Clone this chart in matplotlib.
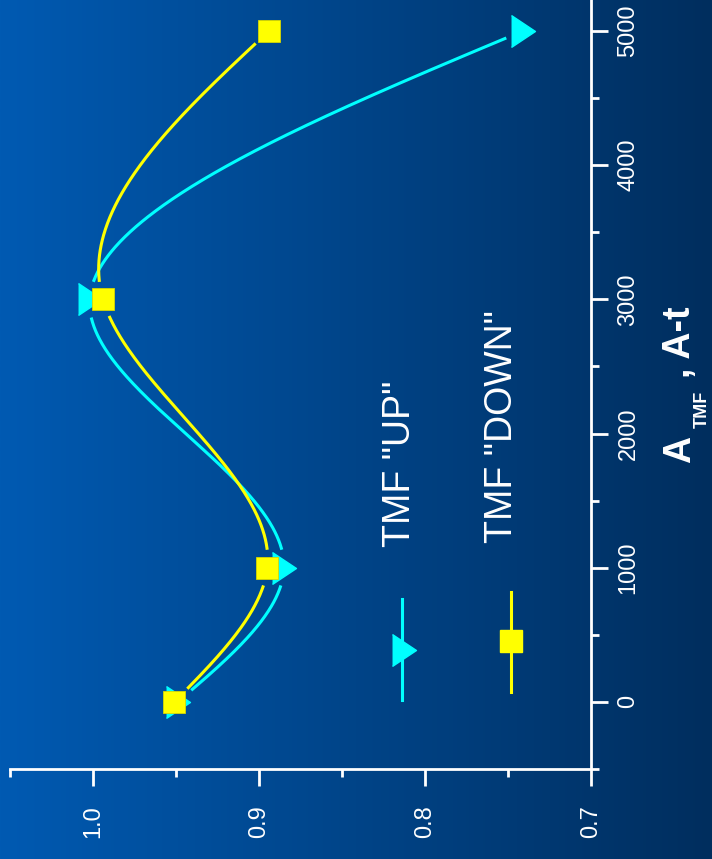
import numpy as np
import matplotlib
matplotlib.use("Agg")
import matplotlib.pyplot as plt
from matplotlib.colors import LinearSegmentedColormap

# A_TMF (A-t) and the measured ratio for both TMF directions
a_tmf = [0, 1000, 3000, 5000]
tmf_up = [0.949, 0.885, 1.002, 0.741]
tmf_down = [0.951, 0.895, 0.994, 0.894]
a_ticks = [0, 1000, 2000, 3000, 4000, 5000]
val_ticks = [0.7, 0.8, 0.9, 1.0]

W, H = 712, 859
CYAN = "#00ffff"
YELLOW = "#ffff00"


def natural_spline(x, y, xs):
    x = np.asarray(x, float)
    y = np.asarray(y, float)
    n = len(x)
    h = np.diff(x)
    A = np.zeros((n, n))
    b = np.zeros(n)
    A[0, 0] = A[-1, -1] = 1
    for i in range(1, n - 1):
        A[i, i - 1] = h[i - 1]
        A[i, i] = 2 * (h[i - 1] + h[i])
        A[i, i + 1] = h[i]
        b[i] = 6 * ((y[i + 1] - y[i]) / h[i] - (y[i] - y[i - 1]) / h[i - 1])
    M = np.linalg.solve(A, b)
    idx = np.clip(np.searchsorted(x, xs) - 1, 0, n - 2)
    x0, x1, hh = x[idx], x[idx + 1], h[idx]
    return (M[idx] * (x1 - xs) ** 3 / (6 * hh) + M[idx + 1] * (xs - x0) ** 3 / (6 * hh)
            + (y[idx] / hh - M[idx] * hh / 6) * (x1 - xs)
            + (y[idx + 1] / hh - M[idx + 1] * hh / 6) * (xs - x0))


def px(x, y):
    return x / W, 1 - y / H


fig = plt.figure(figsize=(W / 100, H / 100), dpi=100)

# background gradient, lighter blue on the left
bg = fig.add_axes([0, 0, 1, 1], zorder=-10)
cmap = LinearSegmentedColormap.from_list("bg", ["#005ab2", "#002e5e"])
bg.imshow(np.linspace(0, 1, 256)[None, :], cmap=cmap, aspect="auto", extent=[0, 1, 0, 1])
bg.axis("off")

l, b = px(10, 769)
r, t = px(591, 0)
ax = fig.add_axes([l, b, r - l, t - b])
ax.set_facecolor("none")
ax.set_xlim(1.05, 0.7)
ax.set_ylim(-500, 702 / 0.1342)

for s in ["left", "top"]:
    ax.spines[s].set_visible(False)
for s in ["bottom", "right"]:
    ax.spines[s].set_color("white")
    ax.spines[s].set_linewidth(2)

ax.set_xticks(val_ticks)
ax.set_xticks([0.75, 0.85, 0.95, 1.05], minor=True)
ax.set_xticklabels([f"{v:.1f}" for v in val_ticks], rotation=90)
ax.yaxis.tick_right()
ax.set_yticks(a_ticks)
ax.set_yticks([-500, 500, 1500, 2500, 3500, 4500], minor=True)
ax.set_yticklabels([str(v) for v in a_ticks], rotation=90, va="center")
ax.tick_params(which="both", colors="white", width=2, direction="out")
ax.tick_params(which="major", length=12)
ax.tick_params(which="minor", length=6)
ax.tick_params(axis="x", which="major", labelsize=17, pad=14)
ax.tick_params(axis="y", which="major", labelsize=17, pad=7)
for lab in ax.get_xticklabels() + ax.get_yticklabels():
    lab.set_family("Liberation Sans")

# smooth curves, broken around the symbols
a_dense = np.linspace(a_tmf[0], a_tmf[-1], 800)
for vals, col in [(tmf_up, CYAN), (tmf_down, YELLOW)]:
    v_dense = natural_spline(a_tmf, vals, a_dense)
    d = ax.transData.transform(np.column_stack([v_dense, a_dense]))
    p = ax.transData.transform(np.column_stack([vals, a_tmf]))
    dist = np.min(np.hypot(d[:, None, 0] - p[None, :, 0], d[:, None, 1] - p[None, :, 1]), axis=1)
    v_dense = np.where(dist < 19, np.nan, v_dense)
    ax.plot(v_dense, a_dense, color=col, lw=2.2, zorder=2)

tri = [(-0.75, -1), (0.75, 0), (-0.75, 1)]
ax.plot(tmf_up, a_tmf, ls="none", marker=tri, ms=23, color=CYAN, mec=CYAN, zorder=3)
ax.plot(tmf_down, a_tmf, ls="none", marker="s", ms=16, color=YELLOW, mec="#d8d800", mew=0.6, zorder=4)

# legend (rotated like the rest of the chart)
fig.add_artist(plt.Line2D(*zip(px(402, 599), px(402, 700)), color=CYAN, lw=2.2))
fig.add_artist(plt.Line2D([px(404, 650)[0]], [px(404, 650)[1]], marker=tri, ms=23, color=CYAN))
fig.add_artist(plt.Line2D(*zip(px(511, 592), px(511, 692)), color=YELLOW, lw=2.2))
fig.add_artist(plt.Line2D([px(511, 641)[0]], [px(511, 641)[1]], marker="s", ms=16, color=YELLOW))
fig.text(*px(410, 547), 'TMF "UP"', rotation=90, rotation_mode="anchor", ha="left", va="baseline",
         color="white", fontsize=27, family="Liberation Sans")
fig.text(*px(512, 543), 'TMF "DOWN"', rotation=90, rotation_mode="anchor", ha="left", va="baseline",
         color="white", fontsize=27, family="Liberation Sans")

# axis title: A_TMF , A-t
fig.text(*px(690, 463), "A", rotation=90, rotation_mode="anchor", ha="left", va="baseline",
         color="white", fontsize=27, fontweight="bold", family="Liberation Sans")
fig.text(*px(707, 428), "TMF", rotation=90, rotation_mode="anchor", ha="left", va="baseline",
         color="white", fontsize=13, fontweight="bold", family="Liberation Sans")
fig.text(*px(690, 378), ", A-t", rotation=90, rotation_mode="anchor", ha="left", va="baseline",
         color="white", fontsize=27, fontweight="bold", family="Liberation Sans")

fig.savefig("out.png", dpi=100)
